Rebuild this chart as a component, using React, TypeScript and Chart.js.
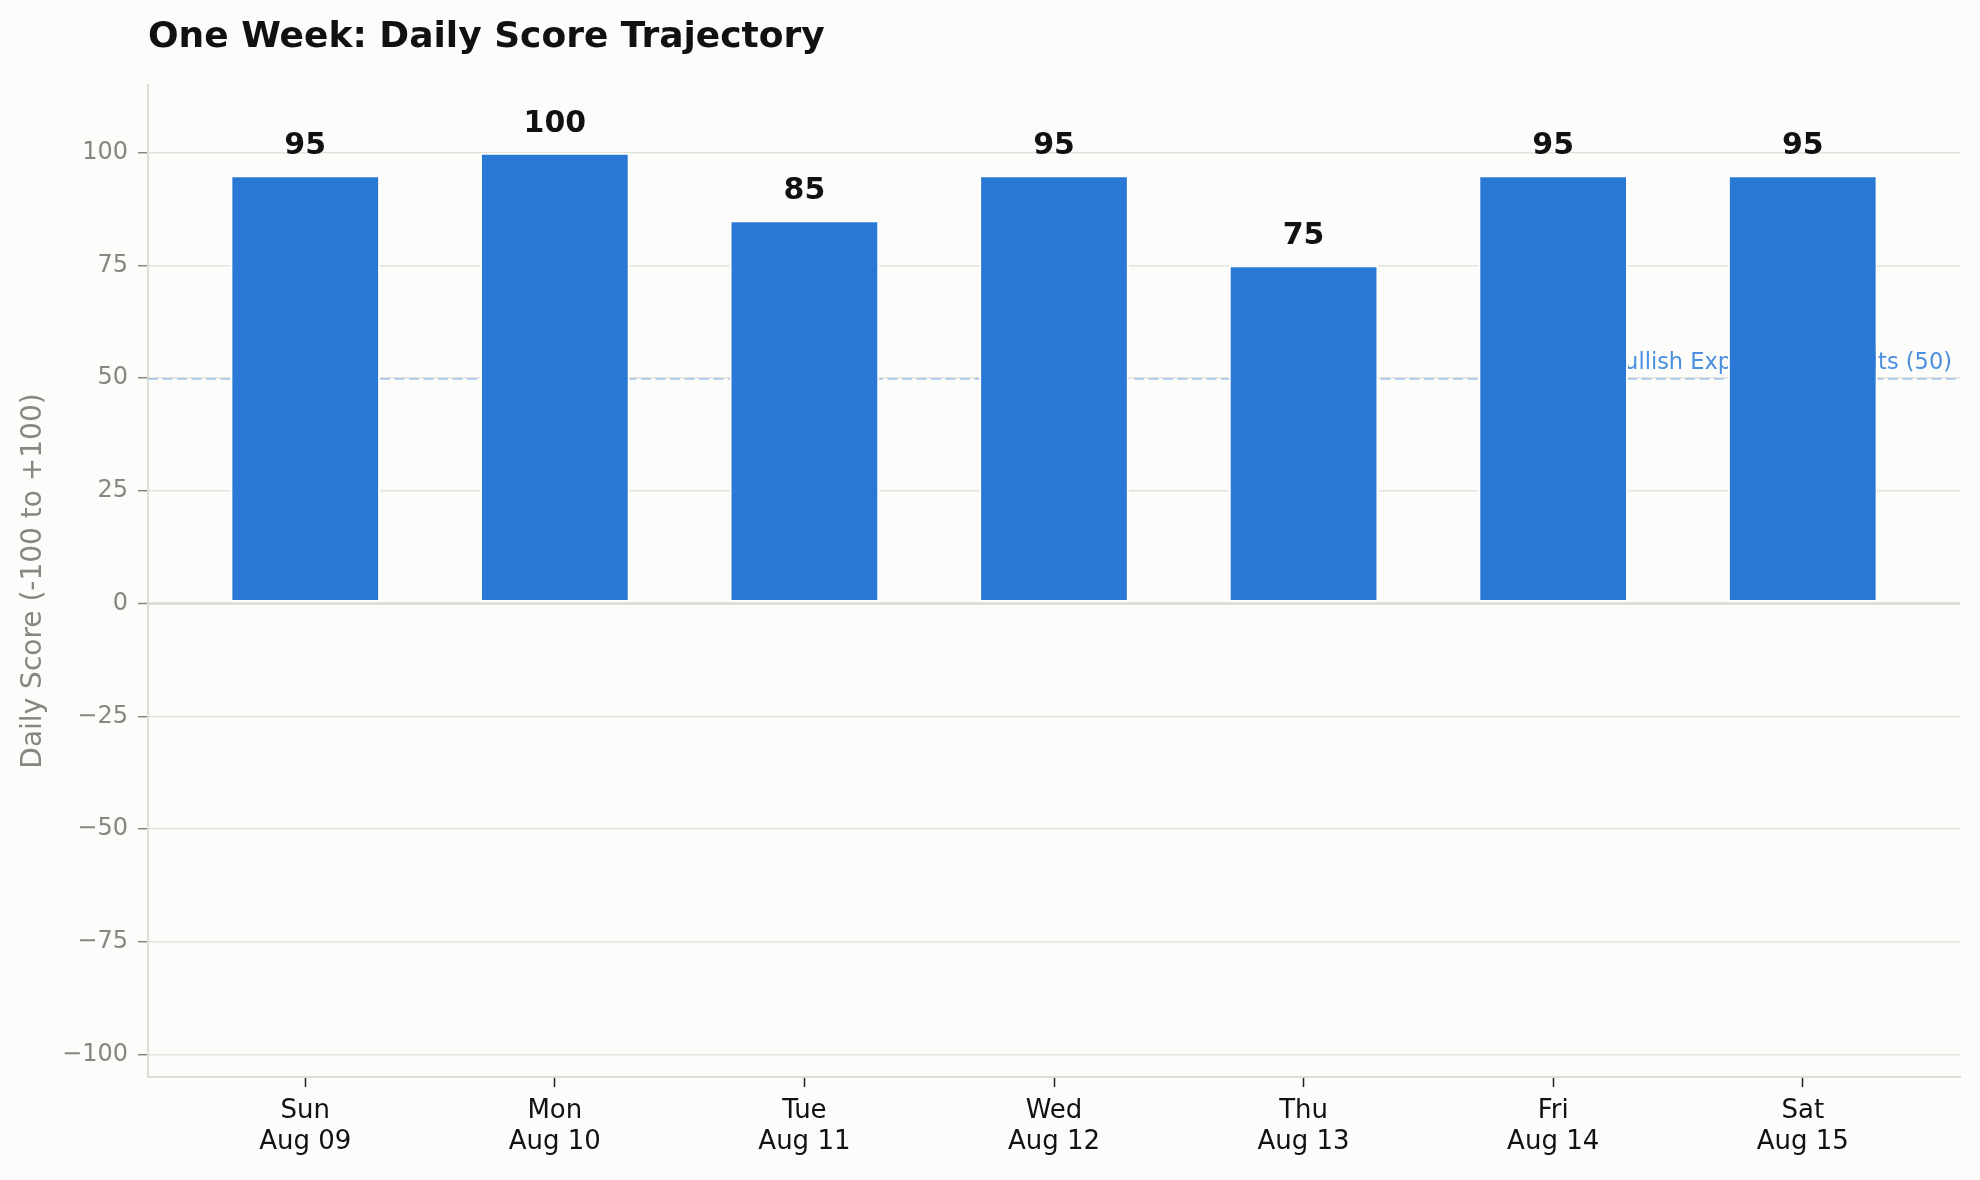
import { useEffect, useRef } from "react";
import { Chart, registerables } from "chart.js";

Chart.register(...registerables);

const TITLE = "One Week: Daily Score Trajectory";
const Y_TITLE = "Daily Score (-100 to +100)";

const days = ["Sun", "Mon", "Tue", "Wed", "Thu", "Fri", "Sat"];
const dates = ["Aug 09", "Aug 10", "Aug 11", "Aug 12", "Aug 13", "Aug 14", "Aug 15"];
const scores = [95, 100, 85, 95, 75, 95, 95];
const yTicks = [-100, -75, -50, -25, 0, 25, 50, 75, 100];
const bullishLevel = 50;
const bullishLabel = "Bullish Expectation Limits (50)";

const BG = "#fcfcfa";
const BAR = "#2a78d5";
const GRID = "#e3e2dc";
const SPINE = "#dddcd5";
const MUTED = "#878782";
const FONT = "'DejaVu Sans', sans-serif";

// title sits left, over the plot area
const titlePlugin = {
  id: "leftTitle",
  afterDraw(chart: any) {
    const { ctx, chartArea } = chart;
    ctx.save();
    ctx.font = `bold 36px ${FONT}`;
    ctx.fillStyle = "#111111";
    ctx.textAlign = "left";
    ctx.textBaseline = "alphabetic";
    ctx.fillText(TITLE, chartArea.left, 47);
    ctx.restore();
  },
};

// dashed reference line + label, drawn behind the bars
const bullishPlugin = {
  id: "bullishLine",
  beforeDatasetsDraw(chart: any) {
    const { ctx, chartArea } = chart;
    const y = chart.scales.y.getPixelForValue(bullishLevel);
    ctx.save();
    ctx.strokeStyle = "rgba(74, 144, 226, 0.38)";
    ctx.lineWidth = 2;
    ctx.setLineDash([10, 4.5]);
    ctx.beginPath();
    ctx.moveTo(chartArea.left, y + 1);
    ctx.lineTo(chartArea.right, y + 1);
    ctx.stroke();
    ctx.setLineDash([]);
    ctx.font = `22.5px ${FONT}`;
    ctx.fillStyle = "#4a8fe0";
    ctx.textAlign = "right";
    ctx.textBaseline = "alphabetic";
    ctx.fillText(bullishLabel, chartArea.right - 8, y - 9);
    ctx.restore();
  },
};

const valuePlugin = {
  id: "barValues",
  afterDatasetsDraw(chart: any) {
    const { ctx } = chart;
    const meta = chart.getDatasetMeta(0);
    ctx.save();
    ctx.font = `bold 30px ${FONT}`;
    ctx.fillStyle = "#111111";
    ctx.textAlign = "center";
    ctx.textBaseline = "alphabetic";
    meta.data.forEach((bar: any, i: number) => {
      ctx.fillText(String(scores[i]), bar.x, bar.y - 21);
    });
    ctx.restore();
  },
};

export default function App() {
  const canvasRef = useRef<HTMLCanvasElement>(null);
  const chartRef = useRef<Chart | null>(null);

  useEffect(() => {
    if (!canvasRef.current) return;
    const ctx = canvasRef.current.getContext("2d");
    if (!ctx) return;

    if (chartRef.current) chartRef.current.destroy();

    Chart.defaults.font.family = FONT;

    chartRef.current = new Chart(ctx, {
      type: "bar",
      data: {
        datasets: [
          {
            data: scores.map((v, i) => ({ x: i, y: v })),
            backgroundColor: BAR,
            borderColor: "#ffffff",
            borderWidth: 2,
            borderSkipped: false,
            barPercentage: 0.6,
            categoryPercentage: 1,
          },
        ],
      },
      options: {
        responsive: false,
        devicePixelRatio: 1,
        animation: false,
        layout: { padding: { top: 85, right: 20, left: 0, bottom: 0 } },
        plugins: {
          legend: { display: false },
          tooltip: { enabled: false },
          title: { display: false },
        },
        scales: {
          x: {
            type: "linear",
            min: -0.63,
            max: 6.63,
            offset: false,
            afterBuildTicks: (scale: any) => {
              scale.ticks = days.map((_, i) => ({ value: i }));
            },
            afterFit: (scale: any) => {
              scale.height = 103;
            },
            ticks: {
              autoSkip: false,
              maxRotation: 0,
              padding: 8,
              color: "#111111",
              font: { size: 26, lineHeight: 1.22 },
              callback: (v: any) => [days[v], dates[v]],
            },
            grid: {
              offset: false,
              drawOnChartArea: false,
              drawTicks: true,
              tickLength: 10,
              tickColor: "#222222",
              tickWidth: 1.5,
            },
            border: { display: true, color: SPINE, width: 2 },
          },
          y: {
            min: -105,
            max: 115,
            afterBuildTicks: (scale: any) => {
              scale.ticks = yTicks.map((v) => ({ value: v }));
            },
            afterFit: (scale: any) => {
              scale.width = 148;
            },
            ticks: {
              padding: 10,
              color: MUTED,
              font: { size: 24 },
              callback: (v: any) => (v < 0 ? "\u2212" + Math.abs(v) : String(v)),
            },
            grid: {
              color: (c: any) => (c.tick && c.tick.value === 0 ? "#dfded7" : GRID),
              lineWidth: (c: any) => (c.tick && c.tick.value === 0 ? 3 : 1.4),
              drawTicks: true,
              tickLength: 10,
              tickColor: MUTED,
              tickWidth: 1.5,
            },
            border: { display: true, color: SPINE, width: 2 },
            title: {
              display: true,
              text: Y_TITLE,
              color: MUTED,
              font: { size: 28 },
              padding: { top: 17, bottom: 0 },
            },
          },
        },
      },
      plugins: [titlePlugin, bullishPlugin, valuePlugin],
    } as any);

    return () => {
      if (chartRef.current) {
        chartRef.current.destroy();
        chartRef.current = null;
      }
    };
  }, []);

  return (
    <div
      style={{
        position: "absolute",
        top: 0,
        left: 0,
        width: 1980,
        height: 1180,
        background: BG,
      }}
    >
      <canvas ref={canvasRef} width={1980} height={1180} style={{ display: "block" }} />
    </div>
  );
}
